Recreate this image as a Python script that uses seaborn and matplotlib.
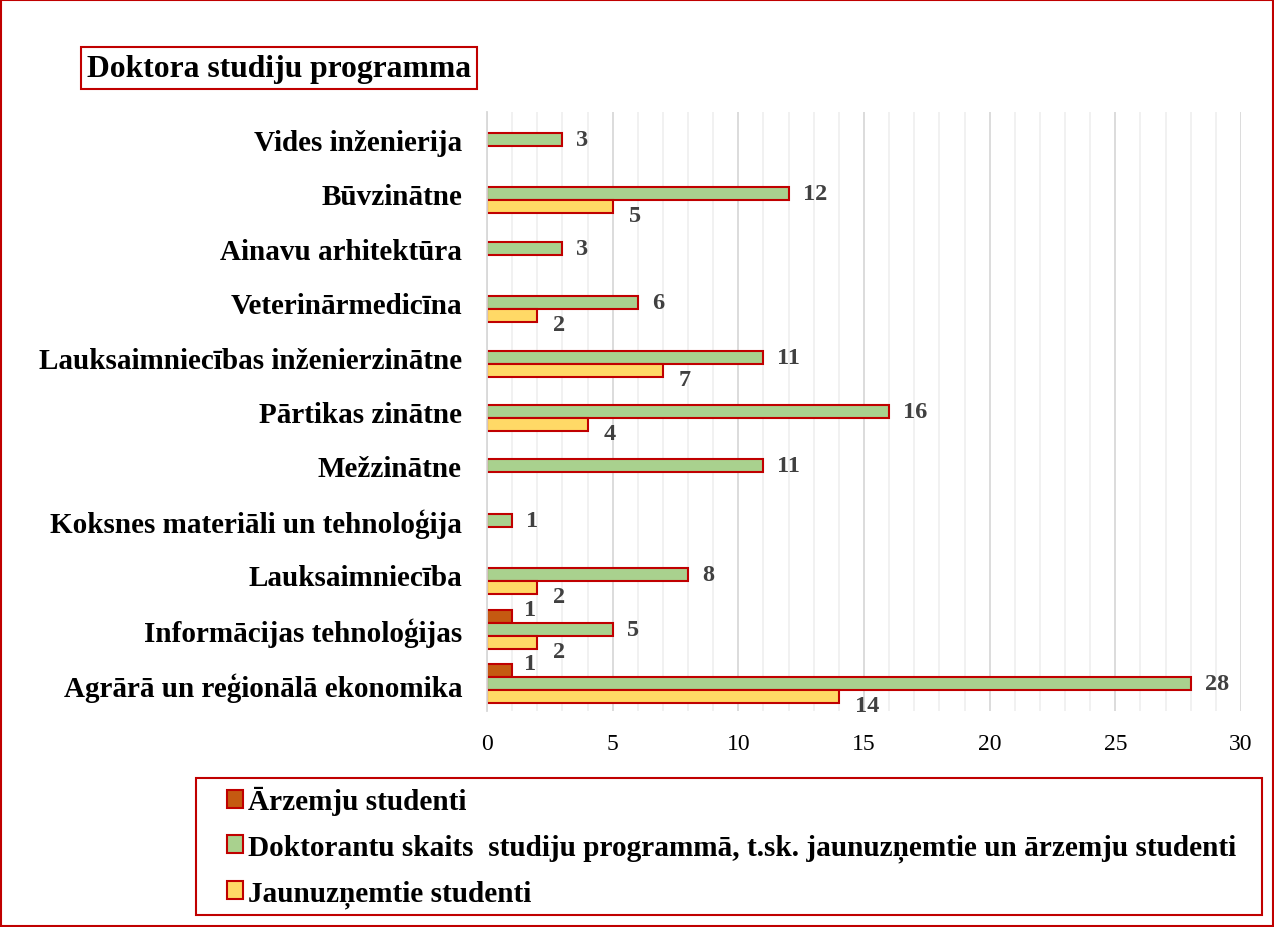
"""
Doktora studiju programma - horizontal grouped bar chart
"""
import numpy as np
import pandas as pd
import matplotlib.pyplot as plt
from matplotlib.patches import Rectangle
from matplotlib.ticker import MultipleLocator
import seaborn as sns

sns.set_theme(style='white')
plt.rcParams['font.family'] = ['Liberation Serif', 'DejaVu Serif']
plt.rcParams['text.color'] = 'black'
plt.rcParams['xtick.color'] = 'black'
plt.rcParams['ytick.color'] = 'black'

programs = [
    'Vides inženierija', 'Būvzinātne', 'Ainavu arhitektūra', 'Veterinārmedicīna',
    'Lauksaimniecības inženierzinātne', 'Pārtikas zinātne', 'Mežzinātne',
    'Koksnes materiāli un tehnoloģija', 'Lauksaimniecība',
    'Informācijas tehnoloģijas', 'Agrārā un reģionālā ekonomika',
]
series = [
    'Ārzemju studenti',
    'Doktorantu skaits  studiju programmā, t.sk. jaunuzņemtie un ārzemju studenti',
    'Jaunuzņemtie studenti',
]
foreign = [np.nan] * 9 + [1, 1]
total = [3, 12, 3, 6, 11, 16, 11, 1, 8, 5, 28]
new = [np.nan, 5, np.nan, 2, 7, 4, np.nan, np.nan, 2, 2, 14]

colors = ['#C55A11', '#A9D18E', '#FFD966']
edge = '#C00000'

df = pd.DataFrame({'program': programs * 3,
                   'series': np.repeat(series, len(programs)),
                   'value': foreign + total + new})

fig = plt.figure(figsize=(12.74, 9.28), dpi=100)
ax = fig.add_axes([487 / 1274, 1 - 712 / 928, (1241 - 487) / 1274, (712 - 113) / 928])

sns.barplot(data=df, y='program', x='value', hue='series', order=programs,
            hue_order=series, palette=colors, saturation=1, orient='h', width=0.72,
            edgecolor=edge, linewidth=1.5, ax=ax, legend=True)

# data labels, offset per series like the original
offsets = [(12, 7), (14, 0), (16, -9)]
for cont, (dx, dy) in zip(ax.containers, offsets):
    for patch in cont:
        w = patch.get_width()
        if np.isnan(w) or w == 0:
            continue
        ax.annotate(f'{w:.0f}', (w, patch.get_y() + patch.get_height() / 2),
                    xytext=(dx, dy), textcoords='offset pixels',
                    ha='left', va='center', fontsize=17.5, fontweight='bold',
                    color='#404040')

ax.set_xlim(0, 30)
ax.xaxis.set_major_locator(MultipleLocator(5))
ax.xaxis.set_minor_locator(MultipleLocator(1))
ax.grid(axis='x', which='major', color='#D9D9D9', linewidth=1.3)
ax.grid(axis='x', which='minor', color='#F0F0F0', linewidth=1.3)
ax.set_axisbelow(True)
for s in ['top', 'right', 'bottom']:
    ax.spines[s].set_visible(False)
ax.spines['left'].set_color('#D9D9D9')
ax.spines['left'].set_linewidth(1.3)
ax.tick_params(axis='x', which='both', length=0, labelsize=17, pad=16)
ax.tick_params(axis='y', length=0, pad=18)
for lab in ax.get_yticklabels():
    lab.set_fontsize(21)
    lab.set_fontweight('bold')
ax.set_xlabel('')
ax.set_ylabel('')

handles, labels = ax.get_legend_handles_labels()
ax.get_legend().remove()
fig.legend(handles, labels, loc='center left',
           bbox_to_anchor=(227 / 1274, 1 - 848 / 928),
           frameon=False, prop={'size': 21.1, 'weight': 'bold'},
           handlelength=0.55, handleheight=0.55, handletextpad=0.15,
           labelspacing=0.6, borderpad=0, borderaxespad=0)
fig.patches.append(Rectangle((196 / 1274, 1 - 916 / 928), (1262 - 196) / 1274, (916 - 779) / 928,
                             transform=fig.transFigure, fill=False, edgecolor=edge, linewidth=1.5))

fig.text(87 / 1274, 1 - 69 / 928, 'Doktora studiju programma', fontsize=22.8,
         fontweight='bold', va='center', ha='left',
         bbox=dict(boxstyle='square,pad=0.2', facecolor='white', edgecolor=edge, linewidth=1.5))

# red outer frame
fig.patches.append(Rectangle((0.001, 0.001), 0.998, 0.998, transform=fig.transFigure,
                             fill=False, edgecolor=edge, linewidth=1.5))

fig.savefig('out.png', dpi=100, facecolor='white')
